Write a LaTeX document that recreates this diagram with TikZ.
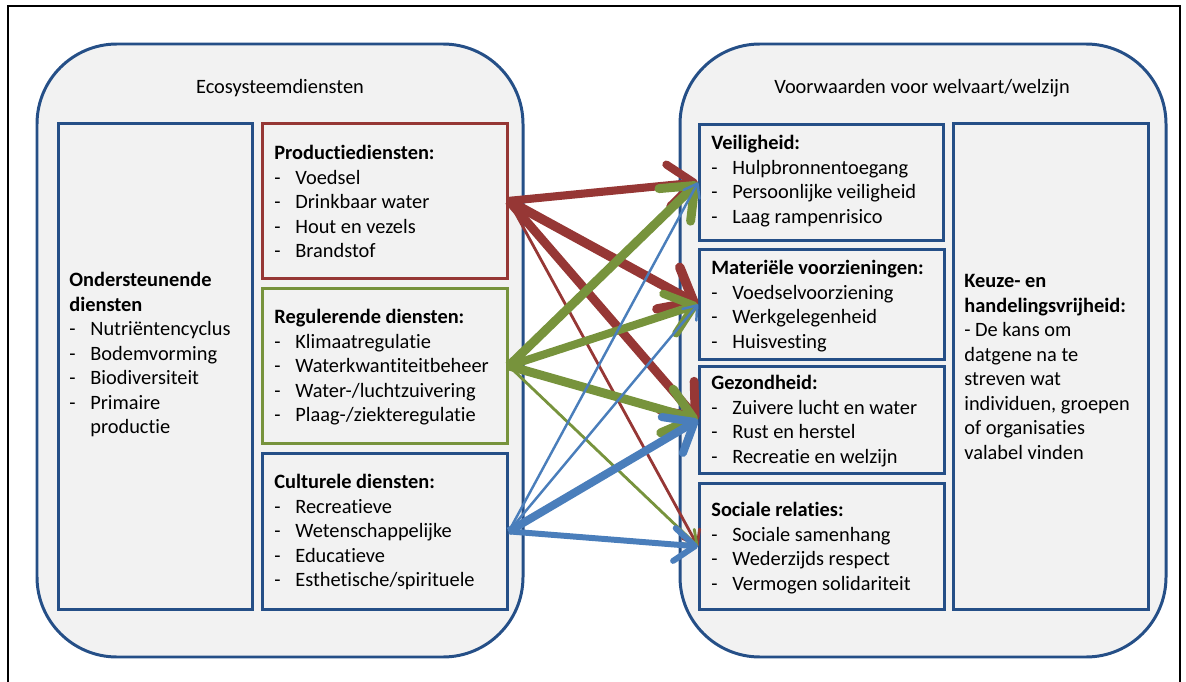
\documentclass[tikz,border=0pt]{standalone}
\usepackage{fontspec}
\setmainfont{Carlito}[Ligatures=NoCommon]
\usetikzlibrary{arrows.meta,positioning}

\definecolor{frameblue}{RGB}{37,79,135}
\definecolor{boxgray}{RGB}{242,242,242}
\definecolor{prodred}{RGB}{150,55,53}
\definecolor{reggreen}{RGB}{119,147,60}
\definecolor{cultblue}{RGB}{74,126,187}

\newcommand{\dashitem}[1]{\makebox[0.42cm][l]{-}#1}

\tikzset{
  panel/.style={draw=frameblue, line width=1.7pt, fill=boxgray, rounded corners=1.6cm},
  box/.style={draw=#1, line width=1.6pt, fill=boxgray, anchor=north west, inner sep=0pt},
  box/.default=frameblue,
  txt/.style={anchor=north west, align=left, inner sep=0pt, font=\fontsize{11.6}{13.95}\selectfont},
  flow/.style={line width=#1, -{Straight Barb[round, length=3.6pt 2.4, width=4.4pt 4.2]}},
}

\begin{document}
\begin{tikzpicture}[x=0.02cm, y=-0.02cm]
\useasboundingbox (0,0) rectangle (1186,682);

% Frame
\draw[line width=1.2pt] (8,700) -- (8,6) -- (1180,6) -- (1180,700);

% Panels
\draw[panel] (37,44) rectangle (523,657);
\draw[panel] (680,44) rectangle (1166,657);
\node[txt, anchor=center] (ecotitle) at (280,88) {Ecosysteemdiensten};
\node[txt, anchor=center] (welttitle) at (922,88) {Voorwaarden voor welvaart/welzijn};

% Ecosystem services
\node[box, minimum width=3.88cm, minimum height=9.72cm] (supp) at (57,122) {};
\node[box=prodred, minimum width=4.9cm, minimum height=3.1cm] (prod) at (261,122) {};
\node[box=reggreen, minimum width=4.9cm, minimum height=3.1cm] (reg) at (261,287) {};
\node[box, minimum width=4.9cm, minimum height=3.12cm] (cult) at (261,452) {};

\node[txt] (supptxt) at (69,272) {\textbf{Ondersteunende}\\\textbf{diensten}\\
  \dashitem{Nutriëntencyclus}\\\dashitem{Bodemvorming}\\\dashitem{Biodiversiteit}\\
  \dashitem{Primaire}\\\hspace*{0.42cm}productie};
\node[txt] (prodtxt) at (274,145) {\textbf{Productiediensten:}\\\dashitem{Voedsel}\\
  \dashitem{Drinkbaar water}\\\dashitem{Hout en vezels}\\\dashitem{Brandstof}};
\node[txt] (regtxt) at (274,309) {\textbf{Regulerende diensten:}\\\dashitem{Klimaatregulatie}\\
  \dashitem{Waterkwantiteitbeheer}\\\dashitem{Water-/luchtzuivering}\\\dashitem{Plaag-/ziekteregulatie}};
\node[txt] (culttxt) at (274,474) {\textbf{Culturele diensten:}\\\dashitem{Recreatieve}\\
  \dashitem{Wetenschappelijke}\\\dashitem{Educatieve}\\\dashitem{Esthetische/spirituele}};

% Well-being
\node[box, minimum width=4.88cm, minimum height=2.32cm] (veil) at (698,123) {};
\node[box, minimum width=4.9cm, minimum height=2.2cm] (mat) at (698,248) {};
\node[box, minimum width=4.9cm, minimum height=2.14cm] (gez) at (698,365) {};
\node[box, minimum width=4.9cm, minimum height=2.52cm] (soc) at (698,482) {};
\node[box, minimum width=3.9cm, minimum height=9.72cm] (keuze) at (952,122) {};

\node[txt] (veiltxt) at (711,135) {\textbf{Veiligheid:}\\\dashitem{Hulpbronnentoegang}\\
  \dashitem{Persoonlijke veiligheid}\\\dashitem{Laag rampenrisico}};
\node[txt] (mattxt) at (711,260) {\textbf{Materiële voorzieningen:}\\\dashitem{Voedselvoorziening}\\
  \dashitem{Werkgelegenheid}\\\dashitem{Huisvesting}};
\node[txt] (geztxt) at (711,375) {\textbf{Gezondheid:}\\\dashitem{Zuivere lucht en water}\\
  \dashitem{Rust en herstel}\\\dashitem{Recreatie en welzijn}};
\node[txt] (soctxt) at (711,502) {\textbf{Sociale relaties:}\\\dashitem{Sociale samenhang}\\
  \dashitem{Wederzijds respect}\\\dashitem{Vermogen solidariteit}};
\node[txt] (keuzetxt) at (964,274) {\textbf{Keuze- en}\\\textbf{handelingsvrijheid:}\\
  - De kans om\\datgene na te\\streven wat\\individuen, groepen\\of organisaties\\valabel vinden};

% Flows
\draw[flow=4.6pt, prodred] (prod.east) -- (veil.west);
\draw[flow=5.4pt, prodred] (prod.east) -- (mat.west);
\draw[flow=5pt, prodred] (prod.east) -- (gez.west);
\draw[flow=1.6pt, prodred] (prod.east) -- (soc.west);

\draw[flow=5.1pt, reggreen] (reg.east) -- (veil.west);
\draw[flow=4.6pt, reggreen] (reg.east) -- (mat.west);
\draw[flow=5.1pt, reggreen] (reg.east) -- (gez.west);
\draw[flow=1.6pt, reggreen] (reg.east) -- (soc.west);

\draw[flow=1.4pt, cultblue] (cult.east) -- (veil.west);
\draw[flow=1.4pt, cultblue] (cult.east) -- (mat.west);
\draw[flow=4.6pt, cultblue] (cult.east) -- (gez.west);
\draw[flow=3.4pt, cultblue] (cult.east) -- (soc.west);

\end{tikzpicture}
\end{document}
